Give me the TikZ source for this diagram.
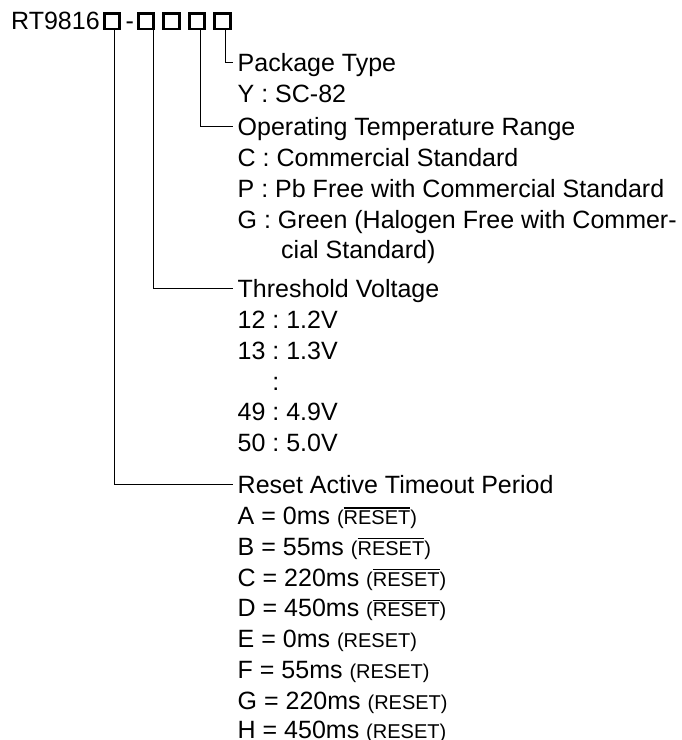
\documentclass[tikz,border=0pt]{standalone}
\usepackage{fontspec}
\setmainfont{Liberation Sans}
\frenchspacing
\newcommand{\smf}{\fontsize{20pt}{24pt}\selectfont}
\newcommand{\rsbar}[1]{\setbox0\hbox{#1}\rlap{\rule[15.8pt]{\wd0}{1.2pt}}\box0}
\begin{document}
\frenchspacing
\begin{tikzpicture}[x=1pt,y=-1pt,
  lbl/.style={anchor=base west,inner xsep=4.5pt,inner ysep=0pt,font=\fontsize{25pt}{30pt}\selectfont},
  box/.style={draw,line width=2.8pt,minimum width=15.6pt,minimum height=15.8pt,inner sep=0pt},
  conn/.style={line width=1pt}]
\useasboundingbox (0,0) rectangle (682,740);
% title and boxes
\node[lbl,inner xsep=0pt] (title) at (11,29.8) {RT9816};
\node[lbl,inner xsep=0pt] (dash) at (125.5,29.8) {-};
\node[box] (b1) at (112,21) {};
\node[box] (b2) at (146,21) {};
\node[box] (b3) at (171.5,21) {};
\node[box] (b4) at (197,21) {};
\node[box] (b5) at (222.5,21) {};
% package type
\node[lbl] (pkg) at (233,71.6) {Package Type};
\node[lbl] (pkg1) at (233,102.4) {Y : SC-82};
% operating temperature
\node[lbl] (op) at (233,135.6) {Operating Temperature Range};
\node[lbl] (op1) at (233,166.4) {C : Commercial Standard};
\node[lbl] (op2) at (233,197.2) {P : Pb Free with Commercial Standard};
\node[lbl] (op3) at (233,228) {G : Green (Halogen Free with Commer-};
\node[lbl] (op4) at (276.5,258.8) {cial Standard)};
% threshold voltage
\node[lbl] (th) at (233,297.6) {Threshold Voltage};
\node[lbl] (th1) at (233,328.4) {12 : 1.2V};
\node[lbl] (th2) at (233,359.2) {13 : 1.3V};
\node[lbl] (th3) at (233,390) {\phantom{12 }:};
\node[lbl] (th4) at (233,420.8) {49 : 4.9V};
\node[lbl] (th5) at (233,451.6) {50 : 5.0V};
% reset timeout
\node[lbl] (rs) at (233,493.6) {Reset Active Timeout Period};
\node[lbl] (rs1) at (233,524.4) {A = 0ms {\smf(\rsbar{RESET})}};
\node[lbl] (rs2) at (233,555.2) {B = 55ms {\smf(\rsbar{RESET})}};
\node[lbl] (rs3) at (233,586) {C = 220ms {\smf(\rsbar{RESET})}};
\node[lbl] (rs4) at (233,616.8) {D = 450ms {\smf(\rsbar{RESET})}};
\node[lbl] (rs5) at (233,647.6) {E = 0ms {\smf(RESET)}};
\node[lbl] (rs6) at (233,678.4) {F = 55ms {\smf(RESET)}};
\node[lbl] (rs7) at (233,709.2) {G = 220ms {\smf(RESET)}};
\node[lbl] (rs8) at (233,738.5) {H = 450ms {\smf(RESET)}};
% connectors
\draw[conn] ([xshift=2.5pt]b5.south) |- ([yshift=8.9pt]pkg.base west);
\draw[conn] ([xshift=3pt]b4.south) |- ([yshift=8.9pt]op.base west);
\draw[conn] ([xshift=7.5pt]b2.south) |- ([yshift=8.9pt]th.base west);
\draw[conn] ([xshift=2pt]b1.south) |- ([yshift=8.9pt]rs.base west);
\end{tikzpicture}
\end{document}
